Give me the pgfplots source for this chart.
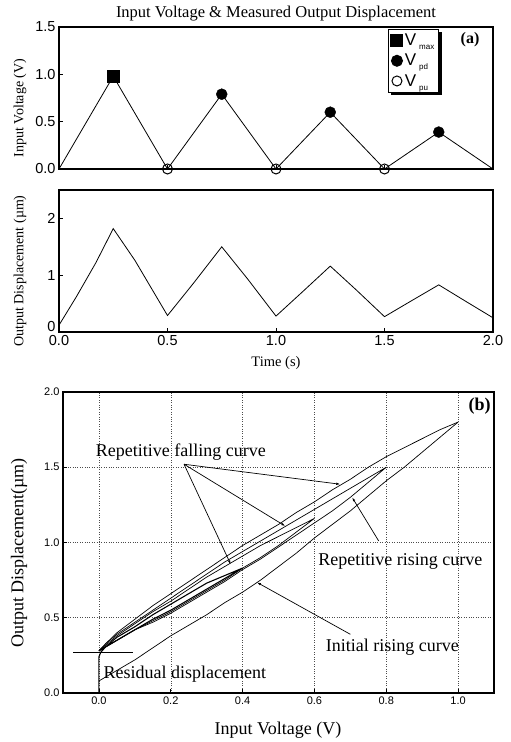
\documentclass[border=0pt]{standalone}
\usepackage{fontspec}
\setmainfont{Liberation Serif}
\setsansfont{Liberation Sans}
\usepackage{pgfplots}
\pgfplotsset{compat=1.18}
\usetikzlibrary{shadows,arrows.meta}

\pgfplotsset{
  /pgf/number format/assume math mode=true,
  panel/.style={
    scale only axis,
    anchor=south west,
    clip=false,
    axis line style={line width=1.2pt},
    tick style={black, line width=0.6pt},
    major tick length=4pt,
    tick align=inside,
    xtick pos=bottom, ytick pos=left,
  },
  onedec/.style={/pgf/number format/fixed, /pgf/number format/fixed zerofill, /pgf/number format/precision=1},
}

\begin{document}
\begin{tikzpicture}[x=1pt,y=1pt]
\useasboundingbox (0,0) rectangle (511,742);

% (a) input voltage
\begin{axis}[panel,
  at={(59pt,573pt)}, width=434pt, height=142pt,
  xmin=0, xmax=2, ymin=0, ymax=1.5,
  xtick={0,0.5,1,1.5,2}, xticklabels={},
  ytick={0,0.5,1,1.5},
  yticklabel style={font=\fontsize{14.5}{16}\sffamily, onedec},
  ylabel={Input Voltage (V)},
  ylabel style={font=\fontsize{14}{16}\selectfont, at={(axis description cs:-0.09,0.43)}, anchor=center},
  title={Input Voltage \& Measured Output Displacement},
  title style={font=\fontsize{16.5}{18}\selectfont, at={(axis description cs:0.5,1)}, anchor=south, yshift=-4pt},
  legend style={at={(rel axis cs:0.758,0.986)}, anchor=north west, draw=black, line width=1pt,
    fill=white, drop shadow={shadow xshift=3pt, shadow yshift=-3pt, fill=black, opacity=1},
    font=\fontsize{17}{19}\sffamily, row sep=3pt, inner sep=2.5pt},
  legend cell align=left,
]
\addplot[black, line width=0.8pt, forget plot] coordinates {
  (0,0) (0.25,0.98) (0.5,0) (0.75,0.79) (1.0,0) (1.25,0.60) (1.5,0) (1.75,0.39) (2.0,0)
};
\addplot[only marks, mark=square*, mark size=6pt, black] coordinates {(0.25,0.98)};
\addplot[only marks, mark=*, mark size=5.5pt, black] coordinates {(0.75,0.79) (1.25,0.60) (1.75,0.39)};
\addplot[only marks, mark=o, mark size=5pt, black, line width=1pt] coordinates {(0.5,0) (1.0,0) (1.5,0)};
\legend{V\,\raisebox{-0.45ex}{\fontsize{8}{8}\selectfont max},
        V\,\raisebox{-0.45ex}{\fontsize{8}{8}\selectfont pd},
        V\,\raisebox{-0.45ex}{\fontsize{8}{8}\selectfont pu}}
\node[font=\fontsize{16}{18}\selectfont\bfseries] at (rel axis cs:0.947,0.908) {(a)};
\end{axis}

% (a) output displacement vs time
\begin{axis}[panel,
  at={(59pt,410pt)}, width=434pt, height=142pt,
  xmin=0, xmax=2, ymin=0, ymax=2.5,
  xtick={0,0.5,1,1.5,2}, ytick={1,2},
  extra y ticks={0}, extra y tick style={yticklabel style={yshift=5pt}},
  xticklabel style={font=\fontsize{14.5}{16}\sffamily, onedec},
  yticklabel style={font=\fontsize{14.5}{16}\sffamily},
  xlabel={Time (s)},
  xlabel style={font=\fontsize{14.5}{16}\selectfont, at={(axis description cs:0.5,-0.218)}, anchor=center},
  ylabel={Output Displacement (µm)},
  ylabel style={font=\fontsize{14}{16}\selectfont, at={(axis description cs:-0.09,0.43)}, anchor=center},
]
\addplot[black, line width=0.8pt] coordinates {
  (0,0.12) (0.08,0.62) (0.17,1.22) (0.25,1.82) (0.35,1.26) (0.5,0.29)
  (0.62,0.86) (0.75,1.50) (0.87,0.93) (1.0,0.28)
  (1.12,0.70) (1.25,1.16) (1.37,0.74) (1.5,0.27)
  (1.62,0.54) (1.75,0.83) (1.87,0.55) (2.0,0.25)
};
\end{axis}

% (b) hysteresis
\begin{axis}[panel,
  at={(63pt,49pt)}, width=431pt, height=301pt,
  xmin=-0.1, xmax=1.1, ymin=0, ymax=2.0,
  xtick={0,0.2,0.4,0.6,0.8,1.0}, ytick={0,0.5,1,1.5,2},
  xticklabel style={font=\fontsize{11}{13}\sffamily, onedec},
  yticklabel style={font=\fontsize{11}{13}\sffamily, onedec},
  grid=major, grid style={dotted, black!70, line width=0.5pt},
  xlabel={Input Voltage (V)},
  xlabel style={font=\fontsize{18}{20}\selectfont, at={(axis description cs:0.499,-0.123)}, anchor=center},
  ylabel={Output Displacement(µm)},
  ylabel style={font=\fontsize{18}{20}\selectfont, at={(axis description cs:-0.102,0.465)}, anchor=center},
]
% initial rising
\addplot[black, line width=0.7pt] coordinates {
  (0.00,0.08) (0.05,0.15) (0.10,0.22) (0.15,0.30) (0.20,0.38) (0.25,0.45)
  (0.30,0.52) (0.35,0.60) (0.40,0.67) (0.45,0.75) (0.50,0.84) (0.55,0.93)
  (0.60,1.03) (0.65,1.12) (0.70,1.21) (0.75,1.31) (0.80,1.41) (0.85,1.50)
  (0.90,1.60) (0.95,1.70) (1.00,1.80)
};
% falling from 1.0 V
\addplot[black, line width=0.7pt] coordinates {
  (1.00,1.80) (0.95,1.75) (0.90,1.69) (0.85,1.63) (0.80,1.57) (0.75,1.50)
  (0.70,1.42) (0.65,1.35) (0.60,1.27) (0.55,1.20) (0.50,1.12) (0.45,1.05)
  (0.40,0.98) (0.35,0.90) (0.30,0.82) (0.25,0.74) (0.20,0.66) (0.15,0.58)
  (0.10,0.49) (0.05,0.40) (0.02,0.33) (0.00,0.28)
};
% cycle to 0.8 V
\addplot[black, line width=0.7pt] coordinates {
  (0.00,0.28) (0.05,0.35) (0.10,0.42) (0.15,0.47) (0.20,0.53) (0.25,0.60)
  (0.30,0.67) (0.35,0.74) (0.40,0.82) (0.45,0.89) (0.50,0.97) (0.55,1.05)
  (0.60,1.13) (0.65,1.21) (0.70,1.30) (0.75,1.40) (0.80,1.50)
  (0.75,1.43) (0.70,1.36) (0.65,1.29) (0.60,1.22) (0.55,1.15) (0.50,1.08)
  (0.45,1.01) (0.40,0.94) (0.35,0.87) (0.30,0.79) (0.25,0.71) (0.20,0.63)
  (0.15,0.55) (0.10,0.47) (0.05,0.39) (0.02,0.33) (0.00,0.28)
};
% cycle to 0.6 V
\addplot[black, line width=0.7pt] coordinates {
  (0.00,0.28) (0.05,0.35) (0.10,0.42) (0.15,0.48) (0.20,0.54) (0.25,0.61)
  (0.30,0.68) (0.35,0.75) (0.40,0.83) (0.45,0.90) (0.50,0.98) (0.55,1.07)
  (0.60,1.16)
  (0.55,1.10) (0.50,1.04) (0.45,0.98) (0.40,0.91) (0.35,0.84) (0.30,0.77)
  (0.25,0.69) (0.20,0.61) (0.15,0.54) (0.10,0.46) (0.05,0.38) (0.00,0.28)
};
% cycle to 0.4 V
\addplot[black, line width=1.1pt] coordinates {
  (0.00,0.28) (0.05,0.35) (0.10,0.42) (0.15,0.49) (0.20,0.55) (0.25,0.62)
  (0.30,0.69) (0.35,0.76) (0.40,0.83)
  (0.35,0.78) (0.30,0.73) (0.25,0.66) (0.20,0.59) (0.15,0.52) (0.10,0.44)
  (0.05,0.37) (0.02,0.31) (0.005,0.27) (0.00,0.24) (0.00,0.00)
};
% annotations
\draw[black, line width=0.5pt] (axis cs:-0.072,0.27) -- (axis cs:0.094,0.27);
\draw[black, line width=0.7pt, -{Latex[length=4pt,width=2.5pt]}] (axis cs:0.237,1.52) -- (axis cs:0.672,1.387);
\draw[black, line width=0.7pt, -{Latex[length=4pt,width=2.5pt]}] (axis cs:0.237,1.52) -- (axis cs:0.519,1.109);
\draw[black, line width=0.7pt, -{Latex[length=4pt,width=2.5pt]}] (axis cs:0.237,1.52) -- (axis cs:0.367,0.855);
\draw[black, line width=0.7pt, -{Latex[length=4pt,width=2.5pt]}] (axis cs:0.779,1.01) -- (axis cs:0.705,1.30);
\draw[black, line width=0.7pt, -{Latex[length=4pt,width=2.5pt]}] (axis cs:0.70,0.39) -- (axis cs:0.44,0.735);
\node[font=\fontsize{18}{20}\selectfont] at (axis cs:0.228,1.60) {Repetitive falling curve};
\node[font=\fontsize{18}{20}\selectfont] at (axis cs:0.839,0.873) {Repetitive rising curve};
\node[font=\fontsize{18}{20}\selectfont] at (axis cs:0.817,0.307) {Initial rising curve};
\node[font=\fontsize{18}{20}\selectfont] at (axis cs:0.239,0.127) {Residual displacement};
\node[font=\fontsize{18}{20}\selectfont\bfseries] at (axis cs:1.06,1.907) {(b)};
\end{axis}
\end{tikzpicture}
\end{document}
